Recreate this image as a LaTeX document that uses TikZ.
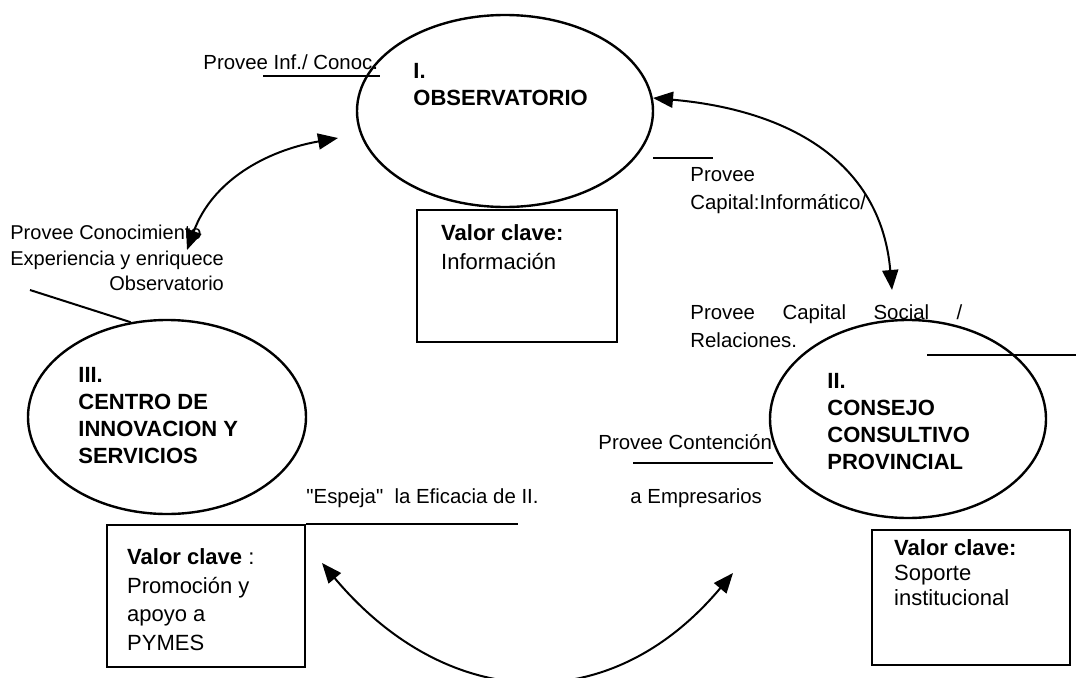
\documentclass[tikz,border=0pt]{standalone}
\usepackage{fontspec}
\setmainfont{Liberation Sans}[Ligatures=TeXOff]
\usetikzlibrary{arrows.meta, positioning, shapes.geometric}

\begin{document}
\begin{tikzpicture}[x=0.5pt, y=0.5pt,
  every node/.style={inner sep=0pt},
  oval/.style={draw, ellipse, line width=1.2pt},
  vbox/.style={draw, rectangle, line width=1.2pt},
  title/.style={anchor=north west, align=left, font=\bfseries\fontsize{11}{13.5}\selectfont},
  lbl/.style={anchor=north west, align=left, font=\fontsize{10.2}{14}\selectfont},
  vtext/.style={anchor=north west, align=left},
  flow/.style={line width=1pt, {Triangle[length=10pt,width=8pt]}-{Triangle[length=10pt,width=8pt]}},
  rule/.style={line width=1pt}]
  \useasboundingbox (0,0) rectangle (1076,677);
  \clip (0,0) rectangle (1076,677);
  % the three units
  \node[oval, minimum width=148pt, minimum height=96pt] (obs) at (505,566) {};
  \node[oval, minimum width=138pt, minimum height=99pt] (ccp) at (908,258) {};
  \node[oval, minimum width=139pt, minimum height=97pt] (cis) at (167,260) {};
  \node[title] (obst) at (413,614.5) {I.\\OBSERVATORIO};
  \node[title] (ccpt) at (827,304.5) {II.\\CONSEJO\\CONSULTIVO\\PROVINCIAL};
  \node[title] (cist) at (78,310.5) {III.\\CENTRO DE\\INNOVACION Y\\SERVICIOS};
  % key values
  \node[vbox, minimum width=100pt, minimum height=66pt] (vobs) at (517,401) {};
  \node[vbox, minimum width=99pt, minimum height=67.5pt] (vccp) at (971,79.5) {};
  \node[vbox, minimum width=99pt, minimum height=71pt] (vcis) at (206,81) {};
  \node[vtext, font=\fontsize{11}{14.5}\selectfont, below right=7.75pt and 12.5pt of vobs.north west] (vobst)
    {\textbf{Valor clave:}\\Información};
  \node[vtext, font=\fontsize{11}{12.5}\selectfont, below right=5.25pt and 11.5pt of vccp.north west] (vccpt)
    {\textbf{Valor clave:}\\Soporte\\institucional};
  \node[vtext, font=\fontsize{11}{14.3}\selectfont, below right=12.25pt and 10.5pt of vcis.north west] (vcist)
    {\textbf{Valor clave} :\\Promoción y\\apoyo a\\PYMES};
  % what each unit provides
  \node[lbl] (inf) at (203,622.5) {Provee Inf./ Conoc.};
  \node[lbl, font=\fontsize{10}{12.75}\selectfont] (expe) at (10,455.5)
    {\begin{tabular}{@{}l@{}}Provee Conocimiento\\Experiencia y enriquece\\\hfill Observatorio\end{tabular}};
  \node[lbl] (infc) at (690,509.5) {Provee\\Capital:Informático/};
  \node[lbl] (soc) at (690,372.5) {\makebox[136pt][s]{Provee Capital Social /}\\Relaciones.};
  \node[lbl] (cont) at (598,242.5) {Provee Contención};
  \node[lbl] (esp) at (306,188.5) {"Espeja"\ \ la Eficacia de II.};
  \node[lbl] (emp) at (630,188.5) {a Empresarios};
  \draw[rule] (263,601) -- (380,601);
  \draw[rule] (30,387) -- (cis.111);
  \draw[rule] (653,519) -- (713,519);
  \draw[rule] (927,322) -- (1076,322);
  \draw[rule] (633,214) -- (773,214);
  \draw[rule] (vcis.north east) -- ++(212,0);
  % exchanges
  \coordinate (a1) at (338,539);
  \coordinate (b1) at (187,427);
  \coordinate (a2) at (653,579);
  \coordinate (b2) at (892,387);
  \coordinate (a3) at (322,114);
  \coordinate (b3) at (733,104);
  \draw[flow] (a1) to[out=190, in=70] (b1);
  \draw[flow] (a2) to[out=-5, in=95, looseness=1.1] (b2);
  \draw[flow] (a3) to[out=-50, in=-130, looseness=1.2] (b3);
\end{tikzpicture}
\end{document}
